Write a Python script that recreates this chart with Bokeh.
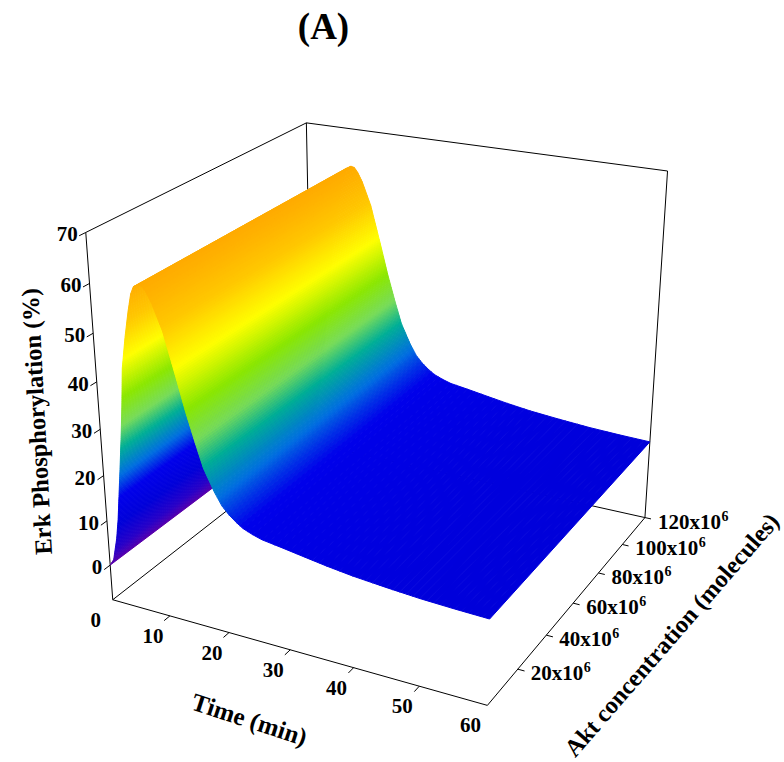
from bokeh.plotting import figure
from bokeh.embed import file_html
from bokeh.resources import INLINE
from bokeh.core.properties import value
import numpy as np

# ---- data ----
time_min = [0, .7, 1.5, 2, 2.5, 3, 3.6, 4, 4.5, 5.3, 6.1, 6.7, 7.2, 8, 8.6, 9.2, 10, 11.5, 13.2, 14.5, 15.8, 17, 18.6, 19.7, 20.8, 22, 23, 24.5, 26, 29, 32.7, 36, 40, 45, 50, 55, 60]
erk_pct = [0, 1.5, 6.5, 11, 17, 23, 30.5, 36, 44, 50.5, 56, 59.5, 61, 61.6, 61.4, 60.4, 58.4, 53.3, 44.8, 38, 32, 26.8, 22.3, 19.8, 18.2, 16.9, 16, 15.2, 14.6, 14, 13.2, 12.5, 11.8, 11.2, 10.7, 10.4, 10.2]
akt_limits = [0, 120]
time_ticks = [0, 10, 20, 30, 40, 50, 60]
erk_ticks = [0, 10, 20, 30, 40, 50, 60, 70]
akt_ticks = [20, 40, 60, 80, 100, 120]
akt_labels = ["20x10", "40x10", "60x10", "80x10", "100x10", "120x10"]
z_floor = -8
z_top = 70

# colour scale of the surface (Erk %, r, g, b)
cz = [0, 4, 10, 16, 21, 27, 32, 38, 46, 54, 62]
cr = [95, 40, 0, 0, 0, 0, 120, 140, 255, 255, 255]
cg = [0, 0, 0, 0, 110, 175, 220, 232, 255, 200, 170]
cb = [170, 200, 218, 235, 225, 150, 90, 0, 0, 0, 0]

# camera calibration: (t, akt, z) seen at (px, py)
cal3 = [(0,0,70),(0,0,60),(0,0,50),(0,0,40),(0,0,30),(0,0,20),(0,0,10),(0,0,0),(0,0,-8),
        (10,0,-8),(20,0,-8),(30,0,-8),(40,0,-8),(50,0,-8),(60,0,-8),
        (60,20,-8),(60,40,-8),(60,60,-8),(60,80,-8),(60,100,-8),(60,120,-8),
        (0,120,-8),(0,120,70),(60,120,70)]
cal2 = [(85,234),(90,283),(92,333),(95,382),(100,428),(102,473),(105,519),(110,563),(113,600),
        (170,617),(230,632),(290,650),(353,667),(418,685),(487,704),
        (517,669),(547,636),(573,603),(598,573),(622,544),(643,516),
        (312,444),(307,122),(667,170)]

A = []
for (X, Y, Z), (u, v) in zip(cal3, cal2):
    A.append([X, Y, Z, 1, 0, 0, 0, 0, -u*X, -u*Y, -u*Z, -u])
    A.append([0, 0, 0, 0, X, Y, Z, 1, -v*X, -v*Y, -v*Z, -v])
P = np.linalg.svd(np.array(A, float))[2][-1].reshape(3, 4)

def proj(t, a, z):
    h = P @ np.array([t, a, z, 1.0])
    return h[0]/h[2], h[1]/h[2]

W, H = 784, 762
p = figure(width=W, height=H, x_range=(0, W), y_range=(H, 0), toolbar_location=None,
           output_backend="svg", min_border=0)
p.axis.visible = False
p.grid.visible = False
p.outline_line_color = None
p.background_fill_color = "white"

def seg(a, b, color="#000000", w=1.0):
    pa, pb = proj(*a), proj(*b)
    p.line([pa[0], pb[0]], [pa[1], pb[1]], line_color=color, line_width=w)

tmax, amax = time_ticks[-1], akt_ticks[-1]
# back walls and floor
for a, b in [((0,0,z_top),(0,amax,z_top)), ((0,amax,z_top),(tmax,amax,z_top)),
             ((0,amax,z_top),(0,amax,z_floor)), ((0,0,z_floor),(0,amax,z_floor)),
             ((0,amax,z_floor),(tmax,amax,z_floor)), ((tmax,amax,z_floor),(tmax,amax,z_top)),
             ((0,0,z_top),(0,0,z_floor)), ((0,0,z_floor),(tmax,0,z_floor)),
             ((tmax,0,z_floor),(tmax,amax,z_floor))]:
    seg(a, b)

# surface: strips painted from the far side (t=0) to the near side, each data cell shaded in fine steps
xs, ys, cols = [], [], []
for i in range(len(time_min)-1):
    t0, t1, z0, z1 = time_min[i], time_min[i+1], erk_pct[i], erk_pct[i+1]
    n = max(1, int(abs(z1-z0)/0.4), int((t1-t0)/1.0))
    fr = np.linspace(0, 1, n+1)
    for k in range(n):
        ta, tb = t0+(t1-t0)*fr[k], t0+(t1-t0)*fr[k+1]
        za, zb = z0+(z1-z0)*fr[k], z0+(z1-z0)*fr[k+1]
        c = [proj(ta, akt_limits[0], za), proj(tb, akt_limits[0], zb), proj(tb, akt_limits[1], zb), proj(ta, akt_limits[1], za)]
        xs.append([q[0] for q in c]); ys.append([q[1] for q in c])
        zm = (za+zb)/2
        cols.append("#%02x%02x%02x" % (int(np.interp(zm, cz, cr)), int(np.interp(zm, cz, cg)), int(np.interp(zm, cz, cb))))
p.patches(xs, ys, fill_color=cols, line_color=cols, line_width=1)

# ticks
for t in time_ticks[1:-1]:
    seg((t, 0, z_floor), (t, -3, z_floor))
for a in akt_ticks:
    seg((tmax, a, z_floor), (tmax+1, a, z_floor))
for z in erk_ticks:
    seg((0, 0, z), (0, -3, z))

font = value("Liberation Serif")
def txt(x, y, s, size, angle=0, align="center"):
    p.text([x], [y], text=[s], text_font=font, text_font_style="bold", text_font_size=f"{size}px",
           text_color="#000000", angle=angle, angle_units="deg", text_align=align, text_baseline="middle")

for z in erk_ticks:
    x, y = proj(0, 0, z)
    txt(x-8, y+2, str(z), 21, align="right")
for t in time_ticks:
    x, y = proj(t, 0, z_floor)
    txt(x-17, y+20, str(t), 21)
for a, s in zip(akt_ticks, akt_labels):
    x, y = proj(tmax, a, z_floor)
    txt(x+13, y+4, s, 21, align="left")
    txt(x+13+len(s)*10.5+0.5, y-2, "6", 14, align="left")

txt(323, 26, "(A)", 37)
txt(36, 421, "Erk Phosphorylation (%)", 24.5, angle=93)
txt(249, 719, "Time (min)", 25, angle=-18)
txt(671, 634, "Akt concentration (molecules)", 24.4, angle=49)

open("out.html", "w").write(file_html(p, INLINE))
